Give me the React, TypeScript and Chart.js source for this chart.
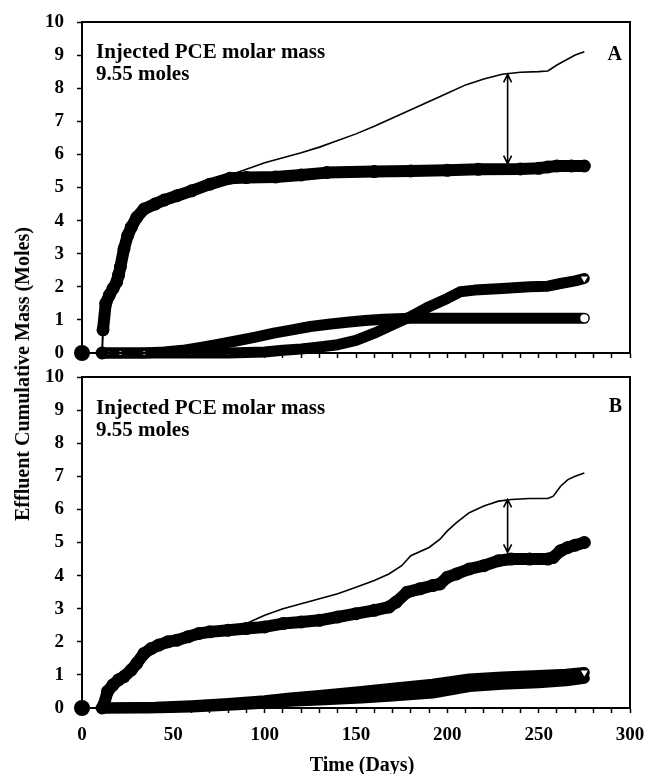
import { useEffect, useRef } from "react";
import { Chart, registerables } from "chart.js";

Chart.register(...registerables);

const FONT = '"Liberation Serif", "Times New Roman", Times, serif';

// ---- text ----
const xTitle = "Time (Days)";
const yTitle = "Effluent Cumulative Mass (Moles)";
const noteLine1 = "Injected PCE molar mass";
const noteLine2 = "9.55 moles";
const xTickLabels = [0, 50, 100, 150, 200, 250, 300];

// ---- Panel A ----
const aTotalDays = [75, 81, 90, 100, 110, 120, 130, 140, 150, 160, 170, 180, 190, 200, 210, 220, 230, 240, 250, 255, 260, 265, 270, 275];
const aTotalMoles = [5.25, 5.38, 5.55, 5.75, 5.9, 6.05, 6.22, 6.42, 6.62, 6.85, 7.1, 7.35, 7.6, 7.85, 8.1, 8.28, 8.42, 8.48, 8.5, 8.52, 8.7, 8.85, 9.0, 9.1];

const aPceDays = [0, 11, 11.5, 13, 15, 17, 19, 20, 21, 23, 25, 27, 30, 34, 40, 45, 52, 60, 70, 81, 90, 106, 120, 134, 160, 180, 200, 217, 240, 250, 255, 260, 268, 275];
const aPceMoles = [0, 0, 0.7, 1.5, 1.75, 1.95, 2.15, 2.35, 2.6, 3.15, 3.55, 3.8, 4.1, 4.35, 4.5, 4.62, 4.75, 4.9, 5.1, 5.28, 5.3, 5.32, 5.38, 5.45, 5.48, 5.5, 5.52, 5.55, 5.56, 5.58, 5.62, 5.65, 5.65, 5.65];

const aCircDays = [12, 14, 21, 34, 45, 55, 65, 75, 85, 95, 105, 115, 125, 135, 145, 155, 165, 180, 200, 220, 240, 260, 275];
const aCircMoles = [0, 0, 0, 0, 0.03, 0.08, 0.17, 0.27, 0.37, 0.48, 0.6, 0.7, 0.8, 0.87, 0.93, 0.98, 1.02, 1.05, 1.05, 1.05, 1.05, 1.05, 1.05];

const aTriDays = [12, 40, 60, 80, 100, 110, 120, 130, 140, 150, 160, 170, 180, 190, 200, 207, 215, 230, 245, 255, 262, 270, 275];
const aTriMoles = [0, 0, 0, 0, 0.03, 0.08, 0.12, 0.18, 0.25, 0.38, 0.6, 0.85, 1.1, 1.4, 1.65, 1.85, 1.9, 1.95, 2.0, 2.02, 2.1, 2.18, 2.25];

const aArrow = [233, 8.42, 5.72]; // day, top, bottom

// ---- Panel B ----
const bTotalDays = [82, 90, 100, 110, 120, 130, 140, 150, 160, 168, 175, 180, 190, 196, 200, 205, 212, 220, 228, 235, 245, 255, 258, 262, 266, 270, 275];
const bTotalMoles = [2.42, 2.55, 2.8, 3.0, 3.15, 3.3, 3.45, 3.65, 3.85, 4.05, 4.3, 4.6, 4.85, 5.1, 5.35, 5.6, 5.9, 6.1, 6.25, 6.3, 6.33, 6.33, 6.4, 6.7, 6.9, 7.0, 7.1];

const bPceDays = [0, 11, 12, 14, 17, 20, 23, 27, 30, 34, 38, 42, 47, 52, 58, 64, 70, 80, 90, 100, 110, 120, 130, 140, 150, 160, 168, 172, 178, 185, 192, 196, 200, 205, 212, 220, 228, 235, 245, 255, 258, 262, 266, 270, 275];
const bPceMoles = [0, 0, 0.1, 0.5, 0.7, 0.85, 0.95, 1.15, 1.35, 1.65, 1.8, 1.9, 2.0, 2.05, 2.15, 2.25, 2.3, 2.35, 2.4, 2.45, 2.55, 2.6, 2.65, 2.75, 2.85, 2.95, 3.05, 3.2, 3.5, 3.6, 3.7, 3.75, 3.95, 4.05, 4.2, 4.3, 4.45, 4.5, 4.5, 4.5, 4.55, 4.75, 4.85, 4.92, 5.0];

const bCircDays = [12, 15, 22, 36, 60, 80, 100, 114, 130, 153, 170, 192, 212, 230, 250, 265, 275];
const bCircMoles = [0, 0, 0, 0, 0.03, 0.08, 0.14, 0.2, 0.24, 0.3, 0.36, 0.45, 0.65, 0.72, 0.76, 0.82, 0.9];

const bTriDays = [12, 40, 60, 80, 100, 114, 130, 153, 170, 192, 212, 230, 250, 265, 275];
const bTriMoles = [0, 0.02, 0.07, 0.14, 0.22, 0.3, 0.38, 0.5, 0.6, 0.72, 0.88, 0.94, 0.98, 1.02, 1.07];

const bArrow = [233, 6.3, 4.7];

type Pair = [number[], number[]];
type Panel = {
  letter: string;
  total: Pair;
  pce: Pair;
  circ: Pair;
  tri: Pair;
  arrow: number[];
  triOnTop: boolean;
  showCircEnd: boolean;
  thinUntil: number;
  showXLabels: boolean;
  padTop: number;
  xAxisH: number;
  noteTop: number;
  letterTop: number;
};

const pts = (d: number[], v: number[]) => d.map((x, i) => ({ x, y: v[i] }));

function bandDataset(p: Pair, endStyle: "circle" | "triangle", label: string, showEnd: boolean) {
  const data = pts(p[0], p[1]);
  const last = data.length - 1;
  return {
    label,
    data,
    borderColor: "#000",
    borderWidth: 11,
    borderCapStyle: "round",
    borderJoinStyle: "round",
    pointStyle: endStyle,
    pointRotation: endStyle === "triangle" ? 180 : 0,
    pointRadius: (ctx: any) =>
      ctx.dataIndex === last ? (showEnd ? 4 : 0) : ctx.dataIndex > 0 && data[ctx.dataIndex].y === 0 ? 1.8 : 0,
    pointBackgroundColor: "#fff",
    pointBorderWidth: 0,
    clip: 10,
  };
}

function makeDatasets(p: Panel) {
  const pce = pts(p.pce[0], p.pce[1]);
  const total = pts(p.total[0], p.total[1]);
  const circ = bandDataset(p.circ, "circle", "circle", p.showCircEnd);
  const tri = bandDataset(p.tri, "triangle", "triangle", true);
  return [
    {
      label: "total",
      data: total,
      borderColor: "#000",
      borderWidth: 1.6,
      pointRadius: 0,
      clip: 10,
    },
    {
      label: "pce",
      data: pce,
      borderColor: "#000",
      borderWidth: 12,
      borderCapStyle: "round",
      borderJoinStyle: "round",
      segment: {
        borderWidth: (ctx: any) => (ctx.p0.parsed.x < p.thinUntil ? 2 : 12),
      },
      pointRadius: (ctx: any) => (ctx.dataIndex === 0 ? 8 : 6.5),
      pointBackgroundColor: "#000",
      pointBorderWidth: 0,
      clip: 10,
    },
    ...(p.triOnTop ? [tri, circ] : [circ, tri]),
  ];
}

function decorPlugin(p: Panel) {
  return {
    id: "decor" + p.letter,
    afterDatasetsDraw(chart: any) {
      const { ctx, chartArea: ca, scales } = chart;
      ctx.save();
      ctx.strokeStyle = "#000";
      ctx.lineWidth = 2;
      ctx.strokeRect(ca.left, ca.top, ca.right - ca.left, ca.bottom - ca.top);
      // arrow
      const x = scales.x.getPixelForValue(p.arrow[0]);
      const y1 = scales.y.getPixelForValue(p.arrow[1]);
      const y2 = scales.y.getPixelForValue(p.arrow[2]);
      ctx.lineWidth = 1.6;
      ctx.beginPath();
      ctx.moveTo(x, y1);
      ctx.lineTo(x, y2);
      ctx.moveTo(x - 4, y1 + 8);
      ctx.lineTo(x, y1);
      ctx.lineTo(x + 4, y1 + 8);
      ctx.moveTo(x - 4, y2 - 8);
      ctx.lineTo(x, y2);
      ctx.lineTo(x + 4, y2 - 8);
      ctx.stroke();
      // texts
      ctx.fillStyle = "#000";
      ctx.font = `bold 21px ${FONT}`;
      ctx.textBaseline = "alphabetic";
      ctx.textAlign = "left";
      ctx.fillText(noteLine1, ca.left + 14, ca.top + p.noteTop);
      ctx.fillText(noteLine2, ca.left + 14, ca.top + p.noteTop + 22);
      ctx.font = `bold 20px ${FONT}`;
      ctx.textAlign = "right";
      ctx.fillText(p.letter, ca.right - 8, ca.top + p.letterTop);
      ctx.restore();
    },
  };
}

function makeConfig(p: Panel): any {
  const tickFont = { family: FONT, size: 19, weight: "bold" as const };
  return {
    type: "line",
    data: { datasets: makeDatasets(p) },
    options: {
      animation: false,
      responsive: false,
      maintainAspectRatio: false,
      layout: { padding: { top: p.padTop, right: 14, left: 0, bottom: 0 } },
      plugins: { legend: { display: false }, tooltip: { enabled: false } },
      scales: {
        x: {
          type: "linear",
          min: 0,
          max: 300,
          ticks: {
            stepSize: 10,
            autoSkip: false,
            maxRotation: 0,
            display: p.showXLabels,
            color: "#000",
            font: tickFont,
            padding: 11,
            callback: (v: number) => (xTickLabels.includes(v) ? String(v) : ""),
          },
          grid: { drawOnChartArea: false, drawTicks: true, tickLength: 5, color: "#000", tickWidth: 1.5 },
          border: { display: true, color: "#000", width: 2 },
          afterFit: (s: any) => {
            s.height = p.xAxisH;
            s.paddingLeft = 0;
            s.paddingRight = 0;
          },
        },
        y: {
          min: 0,
          max: 10,
          ticks: { stepSize: 1, color: "#000", font: tickFont, padding: 13 },
          grid: { drawOnChartArea: false, drawTicks: true, tickLength: 5, color: "#000", tickWidth: 1.5 },
          border: { display: true, color: "#000", width: 2 },
          afterFit: (s: any) => {
            s.width = 74;
            s.paddingTop = 0;
            s.paddingBottom = 0;
          },
        },
      },
    },
    plugins: [decorPlugin(p)],
  };
}

const panelA: Panel = {
  letter: "A",
  total: [aTotalDays, aTotalMoles],
  pce: [aPceDays, aPceMoles],
  circ: [aCircDays, aCircMoles],
  tri: [aTriDays, aTriMoles],
  arrow: aArrow,
  triOnTop: false,
  showCircEnd: true,
  thinUntil: 11.2,
  showXLabels: false,
  padTop: 14,
  xAxisH: 15,
  noteTop: 36,
  letterTop: 38,
};

const panelB: Panel = {
  letter: "B",
  total: [bTotalDays, bTotalMoles],
  pce: [bPceDays, bPceMoles],
  circ: [bCircDays, bCircMoles],
  tri: [bTriDays, bTriMoles],
  arrow: bArrow,
  triOnTop: true,
  showCircEnd: false,
  thinUntil: 11.5,
  showXLabels: true,
  padTop: 9,
  xAxisH: 60,
  noteTop: 37,
  letterTop: 35,
};

const W = 636;

export default function App() {
  const refA = useRef<HTMLCanvasElement>(null);
  const refB = useRef<HTMLCanvasElement>(null);

  useEffect(() => {
    const ca = new Chart(refA.current as HTMLCanvasElement, makeConfig(panelA));
    const cb = new Chart(refB.current as HTMLCanvasElement, makeConfig(panelB));
    return () => {
      ca.destroy();
      cb.destroy();
    };
  }, []);

  return (
    <div
      style={{
        position: "relative",
        width: W,
        height: 766,
        overflow: "hidden",
        fontFamily: FONT,
        background: "#fff",
      }}
    >
      <canvas ref={refA} width={W} height={360} style={{ position: "absolute", left: 0, top: 0, width: W, height: 360 }} />
      <canvas ref={refB} width={W} height={400} style={{ position: "absolute", left: 0, top: 360, width: W, height: 400 }} />
      <div
        style={{
          position: "absolute",
          left: 14,
          top: 366,
          transform: "translate(-50%, -50%) rotate(-90deg)",
          whiteSpace: "nowrap",
          fontWeight: "bold",
          fontSize: 20,
          lineHeight: 1,
          color: "#000",
        }}
      >
        {yTitle}
      </div>
      <div
        style={{
          position: "absolute",
          left: 354,
          top: 756,
          transform: "translate(-50%, -50%)",
          whiteSpace: "nowrap",
          fontWeight: "bold",
          fontSize: 20,
          lineHeight: 1,
          color: "#000",
        }}
      >
        {xTitle}
      </div>
    </div>
  );
}
